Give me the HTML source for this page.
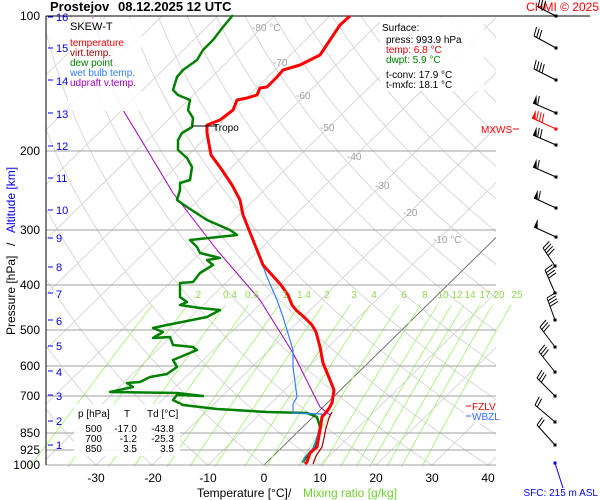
<!DOCTYPE html>
<html><head><meta charset="utf-8"><style>
html,body{margin:0;padding:0;background:#fff;}
svg{display:block;font-family:"Liberation Sans",Arial,sans-serif;}
</style></head><body>
<svg id="s" width="600" height="500" viewBox="0 0 600 500" xmlns="http://www.w3.org/2000/svg">
<defs><clipPath id="pc"><rect x="46" y="16" width="450" height="449"/></clipPath></defs>
<g id="bg" clip-path="url(#pc)"></g>
<g id="mr"></g>
<g id="hl" stroke="#a0a0a0" stroke-width="1">
<line x1="46" y1="151" x2="496" y2="151"/><line x1="46" y1="230" x2="496" y2="230"/>
<line x1="46" y1="285" x2="496" y2="285"/><line x1="46" y1="330" x2="496" y2="330"/>
<line x1="46" y1="366" x2="496" y2="366"/><line x1="46" y1="396" x2="496" y2="396"/>
<line x1="46" y1="433" x2="496" y2="433"/><line x1="46" y1="450" x2="496" y2="450"/>
<line x1="46" y1="465" x2="496" y2="465"/>
</g>
<line x1="46" y1="16" x2="590" y2="16" stroke="#000" stroke-width="1"/>
<line x1="46" y1="16" x2="46" y2="465" stroke="#000" stroke-width="1"/>
<g id="prof"></g>
<!-- legend -->
<rect x="68" y="19" width="73" height="92" fill="#fff" fill-opacity="0.85"/>
<g font-size="10">
<text x="70" y="30" font-size="11" fill="#000">SKEW-T</text>
<text x="70" y="46" fill="#ff0000">temperature</text>
<text x="70" y="56" fill="#a00000">virt.temp.</text>
<text x="70" y="66" fill="#008000">dew point</text>
<text x="70" y="76" fill="#3080ff">wet bulb temp.</text>
<text x="70" y="86" fill="#a000c0">udpraft v.temp.</text>
</g>
<!-- surface box -->
<rect x="380" y="17" width="104" height="74" fill="#fff" fill-opacity="0.9"/>
<g font-size="10">
<text x="382" y="31">Surface:</text>
<text x="386" y="43">press: 993.9 hPa</text>
<text x="386" y="53" fill="#ff0000">temp: 6.8 °C</text>
<text x="386" y="63" fill="#008000">dwpt: 5.9 °C</text>
<text x="386" y="78">t-conv: 17.9 °C</text>
<text x="386" y="88">t-mxfc: 18.1 °C</text>
</g>
<!-- table -->
<rect x="74" y="404" width="106" height="52" fill="#fff" fill-opacity="0.9"/>
<g font-size="10">
<text x="78" y="417">p [hPa]</text><text x="124" y="417">T</text><text x="147" y="417">Td [°C]</text>
<text x="102" y="432" text-anchor="end">500</text><text x="137" y="432" text-anchor="end">-17.0</text><text x="174" y="432" text-anchor="end">-43.8</text>
<text x="102" y="442" text-anchor="end">700</text><text x="137" y="442" text-anchor="end">-1.2</text><text x="174" y="442" text-anchor="end">-25.3</text>
<text x="102" y="452" text-anchor="end">850</text><text x="137" y="452" text-anchor="end">3.5</text><text x="174" y="452" text-anchor="end">3.5</text>
</g>
<!-- isotherm labels -->
<g font-size="10" fill="#a0a0a0">
<text x="252" y="31">-80 °C</text><text x="273" y="66">-70</text><text x="296" y="99">-60</text>
<text x="320" y="131">-50</text><text x="347" y="160">-40</text><text x="375" y="189">-30</text>
<text x="403" y="216">-20</text><text x="433" y="243">-10 °C</text>
</g>
<!-- mixing ratio labels -->
<g font-size="10" fill="#90d850" text-anchor="middle">
<text x="197" y="298">.2</text><text x="230" y="298">0.4</text><text x="252" y="298">0.6</text>
<text x="285" y="298">1</text><text x="304" y="298">1.4</text><text x="327" y="298">2</text>
<text x="354" y="298">3</text><text x="374" y="298">4</text><text x="404" y="298">6</text>
<text x="425" y="298">8</text><text x="443" y="298">10</text><text x="457" y="298">12</text>
<text x="470" y="298">14</text><text x="485" y="298">17</text><text x="499" y="298">20</text>
<text x="517" y="298">25</text>
</g>
<!-- pressure labels -->
<g font-size="12" text-anchor="end">
<text x="40" y="20">100</text><text x="40" y="155">200</text><text x="40" y="234">300</text>
<text x="40" y="289">400</text><text x="40" y="334">500</text><text x="40" y="370">600</text>
<text x="40" y="400">700</text><text x="40" y="437">850</text><text x="40" y="454">925</text>
<text x="40" y="469">1000</text>
</g>
<!-- altitude labels -->
<g font-size="11" fill="#0000ff">
<g stroke="#0000ff" stroke-width="1">
<line x1="48" y1="17" x2="53" y2="17"/><line x1="48" y1="48" x2="53" y2="48"/><line x1="48" y1="80" x2="53" y2="80"/>
<line x1="48" y1="113" x2="53" y2="113"/><line x1="48" y1="146" x2="53" y2="146"/><line x1="48" y1="178" x2="53" y2="178"/>
<line x1="48" y1="210" x2="53" y2="210"/><line x1="48" y1="238" x2="53" y2="238"/><line x1="48" y1="267" x2="53" y2="267"/>
<line x1="48" y1="293" x2="53" y2="293"/><line x1="48" y1="320" x2="53" y2="320"/><line x1="48" y1="346" x2="53" y2="346"/>
<line x1="48" y1="371" x2="53" y2="371"/><line x1="48" y1="395" x2="53" y2="395"/><line x1="48" y1="421" x2="53" y2="421"/>
<line x1="48" y1="445" x2="53" y2="445"/>
</g>
<text x="56" y="21">16</text><text x="56" y="52">15</text><text x="56" y="85">14</text><text x="56" y="118">13</text>
<text x="56" y="150">12</text><text x="56" y="182">11</text><text x="56" y="214">10</text><text x="56" y="242">9</text>
<text x="56" y="271">8</text><text x="56" y="298">7</text><text x="56" y="325">6</text><text x="56" y="350">5</text>
<text x="56" y="376">4</text><text x="56" y="400">3</text><text x="56" y="425">2</text><text x="56" y="449">1</text>
</g>
<!-- x ticks -->
<g font-size="12" text-anchor="middle">
<text x="96" y="482">-30</text><text x="153" y="482">-20</text><text x="208" y="482">-10</text>
<text x="264" y="482">0</text><text x="320" y="482">10</text><text x="376" y="482">20</text>
<text x="432" y="482">30</text><text x="488" y="482">40</text>
</g>
<text x="197" y="497" font-size="12">Temperature [°C]</text>
<text x="288" y="497" font-size="12">/</text>
<text x="303" y="497" font-size="12" fill="#70d030">Mixing ratio [g/kg]</text>
<text transform="translate(15,335) rotate(-90)" font-size="12">Pressure [hPa]</text>
<text transform="translate(15,246) rotate(-90)" font-size="12">/</text>
<text transform="translate(15,233) rotate(-90)" font-size="12" fill="#0000ff">Altitude [km]</text>
<text x="50" y="11" font-size="13" font-weight="bold">Prostejov</text>
<text x="118" y="11" font-size="13" font-weight="bold">08.12.2025 12 UTC</text>
<text x="599" y="11" font-size="12" fill="#ff0000" text-anchor="end">CHMI © 2025</text>
<text x="481" y="133" font-size="10" fill="#ff0000">MXWS</text>
<line x1="513" y1="129" x2="519" y2="129" stroke="#ff0000"/>
<rect x="464" y="402" width="42" height="22" fill="#fff"/>
<line x1="466" y1="406" x2="471" y2="406" stroke="#ff0000"/><text x="472" y="410" font-size="10" fill="#ff0000">FZLV</text>
<line x1="466" y1="416" x2="471" y2="416" stroke="#3070ff"/><text x="472" y="420" font-size="10" fill="#3070ff">WBZL</text>
<text x="598" y="496" font-size="10" fill="#0000ff" text-anchor="end">SFC: 215 m ASL</text>
<g id="wind"></g>
</svg>
<script>
(function(){
var NS="http://www.w3.org/2000/svg";
function el(p,t,a){var e=document.createElementNS(NS,t);for(var k in a)e.setAttribute(k,a[k]);p.appendChild(e);return e;}
function yp(p){return 16+449*Math.log(p/100)/Math.LN10;}
function xt(T,y){return 264+5.6*T+1.02*(465-y);}
var bg=document.getElementById('bg');
for(var T=-160;T<=50;T+=10){
  el(bg,'line',{x1:xt(T,465),y1:465,x2:xt(T,16),y2:16,stroke:'#d8d8d8','stroke-width':1});
}
for(var th=-40;th<=250;th+=10){
  var pts=[];
  for(var p=1050;p>=95;p-=10){var Tk=(th+273.15)*Math.pow(p/1000,0.286)-273.15;var y=yp(p);pts.push(xt(Tk,y).toFixed(1)+','+y.toFixed(1));}
  el(bg,'polyline',{points:pts.join(' '),fill:'none',stroke:'#d8d8d8','stroke-width':1});
}
el(bg,'line',{x1:xt(0,470),y1:470,x2:xt(0,16),y2:16,stroke:'#606060','stroke-width':0.8});
var mr=document.getElementById('mr');
var ws=[0.1,0.2,0.4,0.6,1,1.4,2,3,4,6,8,10,12,14,17,20,25];
ws.forEach(function(w){
  var pts=[];
  for(var p=1010;p>=440;p-=10){var e=w*p/(622+w);var l=Math.log(e/6.112);var Td=243.5*l/(17.67-l);var y=yp(p);pts.push(xt(Td,y).toFixed(1)+','+y.toFixed(1));}
  el(mr,'polyline',{points:pts.join(' '),fill:'none',stroke:'#a0f070','stroke-width':0.8});
});
var prof=document.getElementById('prof');
function pl(g,pts,c,w,op){el(g,'polyline',{points:pts,fill:'none',stroke:c,'stroke-width':w,'stroke-linejoin':'round',opacity:op||1});}
pl(prof,"92,16 100,40 113,90 123,110","#d080e0",1);
pl(prof,"123,110 143,143 173,193 217,250 260,300 293,353 320,407 330,415","#a000c0",1);
pl(prof,"233,15 223,27 213,40 203,50 197,60 183,70 177,77 173,90 178,95 190,100 188,110 193,118 192,127 182,133 178,140 178,150 187,158 192,167 190,180 180,183 180,190 177,200 187,207 207,220 230,230 237,235 190,240 197,247 200,253 220,258 207,260 213,265 200,273 193,282 180,283 180,288 180,297 187,302 180,305 200,308 220,310 207,317 167,325 153,328 163,332 153,338 170,337 173,345 193,347 197,350 173,360 177,367 167,374 150,377 140,382 127,383 133,387 110,392 177,393 203,396 177,395 173,400 183,405 217,409 267,412 307,413 317,417 320,427 318,437 313,450 306,457 303,462","#008000",2.5);
pl(prof,"257,250 267,277 277,300 283,317 293,350 293,367 297,397 293,404 293,413 322,414 319,430 314,447 306,456 302,463","#3080ff",1.2);
pl(prof,"313,464 316,456 322,447 324,438 326,428 329,418 332,412","#a00000",1.2);
pl(prof,"350,16 340,25 330,40 320,55 300,65 283,70 277,77 267,87 260,88 257,95 247,98 237,100 233,110 220,120 207,125 207,133 211,155 222,170 232,185 240,200 243,215 253,240 257,250 263,265 272,275 281,285 288,295 292,305 296,310 305,318 312,325 316,332 320,347 323,363 330,380 334,390 332,403 328,410 322,417 320,430 317,447 310,453 307,462 305,464","#ff0000",3);
el(prof,'line',{x1:192,y1:126,x2:217,y2:126,stroke:'#000','stroke-width':1});
el(prof,'text',{x:213,y:131,'font-size':10}).textContent='Tropo';
var wd=document.getElementById('wind');
function barb(x,y,dx,dy,nf,nb,c){
  var L=Math.sqrt(dx*dx+dy*dy),ux=dx/L,uy=dy/L,px=-uy,py=ux;
  if(py>0){px=-px;py=-py;}
  el(wd,'line',{x1:x,y1:y,x2:x+dx,y2:y+dy,stroke:c,'stroke-width':1});
  el(wd,'rect',{x:x-1.5,y:y-1.5,width:3,height:3,fill:c});
  var ex=x+dx,ey=y+dy,k=0;
  for(var i=0;i<nf;i++){
    var ax=ex-ux*k,ay=ey-uy*k;
    el(wd,'polygon',{points:ax+','+ay+' '+(ax+px*9)+','+(ay+py*9)+' '+(ax-ux*4)+','+(ay-uy*4),fill:c});
    k+=5;
  }
  for(var j=0;j<nb;j++){
    var bx=ex-ux*k,by=ey-uy*k;
    el(wd,'line',{x1:bx,y1:by,x2:bx+px*9+ux*2,y2:by+py*9+uy*2,stroke:c,'stroke-width':1});
    k+=3;
  }
}
barb(556,16,-18,-9,0,3,'#000');
barb(556,48,-22,-12,0,3,'#000');
barb(556,80,-22,-11,0,4,'#000');
barb(556,113,-23,-10,1,1,'#000');
barb(556,129,-24,-11,1,3,'#f00');
barb(556,145,-23,-10,1,2,'#000');
barb(556,177,-23,-10,1,1,'#000');
barb(556,208,-22,-10,1,1,'#000');
barb(556,237,-22,-10,1,0,'#000');
barb(555,266,-12,-18,0,4,'#000');
barb(555,293,-10,-23,0,4,'#000');
barb(555,320,-8,-22,0,4,'#000');
barb(555,347,-15,-20,0,3,'#000');
barb(555,372,-16,-20,0,3,'#000');
barb(555,396,-18,-18,0,3,'#000');
barb(555,422,-20,-17,0,2,'#000');
barb(555,445,-18,-20,0,2,'#000');
el(wd,'line',{x1:555,y1:463,x2:563,y2:488,stroke:'#0000ff','stroke-width':1});
el(wd,'rect',{x:553.5,y:461.5,width:3,height:3,fill:'#0000ff'});
})();
</script>
</body></html>
